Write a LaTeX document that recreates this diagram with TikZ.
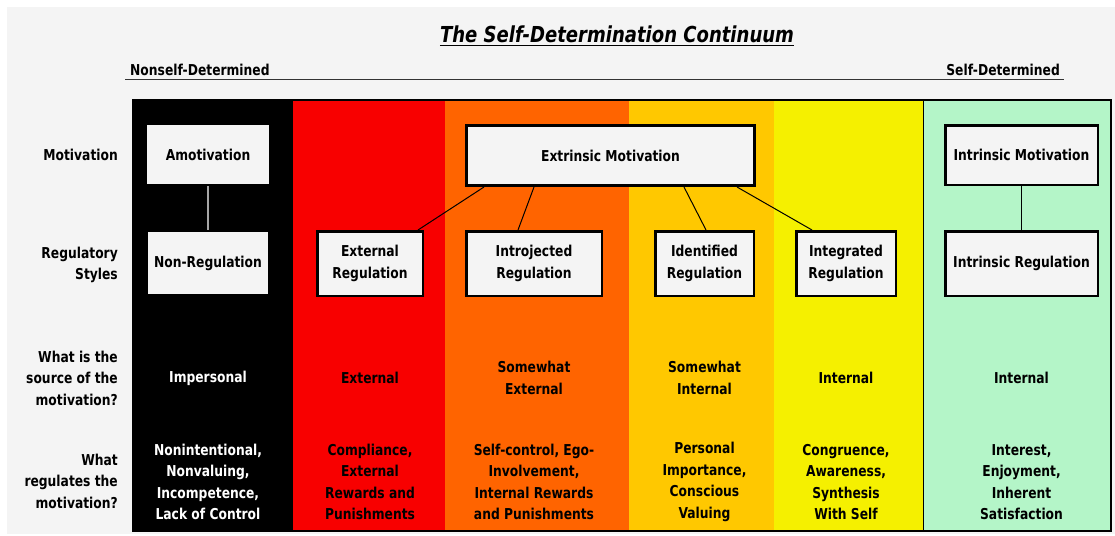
\documentclass[tikz,border=0pt]{standalone}
\usepackage{fontspec}
\setmainfont{DejaVu Sans}[FakeStretch=0.82]
\usetikzlibrary{positioning,calc}

\definecolor{pagegray}{HTML}{F4F4F4}
\definecolor{colred}{HTML}{F80000}
\definecolor{colorange}{HTML}{FF6400}
\definecolor{colgold}{HTML}{FFC800}
\definecolor{colyellow}{HTML}{F5F000}
\definecolor{colgreen}{HTML}{B4F5C8}

\begin{document}
\begin{tikzpicture}[
    x=1pt, y=-1pt,
    box/.style={draw, line width=2.5pt, fill=pagegray, align=center, inner sep=1pt, minimum height=64.5pt},
    lbl/.style={anchor=east, align=right, inner sep=0pt},
    cell/.style={align=center, inner sep=0pt},
    font=\fontsize{15}{21.5}\selectfont\bfseries
]
\useasboundingbox (0,0) rectangle (1115,535);

% Background and colour bands
\fill[pagegray] (7,7) rectangle (1115,534);
\fill[black]      (133,100) rectangle (293,531);
\fill[colred]     (293,100) rectangle (445,531);
\fill[colorange]  (445,100) rectangle (629,531);
\fill[colgold]    (629,100) rectangle (774,531);
\fill[colyellow]  (774,100) rectangle (923,531);
\fill[colgreen]   (923,100) rectangle (1111,531);
\draw[line width=1pt] (923,100) -- (923,531);
\draw[line width=2pt] (133,100) rectangle (1111,531);

% Heading
\node[font=\fontsize{22}{26}\selectfont\bfseries\itshape, inner sep=0pt, anchor=base] (title) at (617,43) {The Self-Determination Continuum};
\draw[line width=1.3pt] ([yshift=-2.7pt]title.base west) -- ([yshift=-2.7pt]title.base east);
\node[inner sep=0pt, anchor=base west] (nonself) at (130,75) {Nonself-Determined};
\node[inner sep=0pt, anchor=base east] (self) at (1060,75) {Self-Determined};
\coordinate (ruleL) at (125,79.5);
\coordinate (ruleR) at (1064,79.5);
\draw[line width=1.3pt, black!80] (ruleL) -- (ruleR);

% Row labels
\node[lbl] (lmot) at (118,155) {Motivation};
\node[lbl] (lreg) at (118,265) {Regulatory\\Styles};
\node[lbl] (lsrc) at (118,378) {What is the\\source of the\\motivation?};
\node[lbl] (lwhat) at (118,481) {What\\regulates the\\motivation?};

% Boxes
\node[box, minimum width=124pt, minimum height=61pt] (amot) at (208,154.5) {Amotivation};
\node[box, minimum width=122pt] (nonreg) at (208,263) {Non-Regulation};
\node[box, line width=3pt, minimum width=288pt, minimum height=60pt] (extrinsic) at (610.5,155.5) {Extrinsic Motivation};
\node[box, minimum width=105.5pt] (extreg) at (370,263.5) {External\\Regulation};
\node[box, minimum width=135.5pt] (introreg) at (534,263.5) {Introjected\\Regulation};
\node[box, minimum width=98.5pt] (identreg) at (704.5,263.5) {Identified\\Regulation};
\node[box, minimum width=99.5pt] (integreg) at (846,263.5) {Integrated\\Regulation};
\node[box, minimum width=152.5pt, minimum height=59.5pt] (intrmot) at (1021.5,155) {Intrinsic Motivation};
\node[box, minimum width=152.5pt] (intrreg) at (1021.5,263.5) {Intrinsic Regulation};

% Links between motivation and regulation
\draw[gray!70, line width=1.2pt] (amot.south) -- (nonreg.north);
\draw[line width=1pt] ([xshift=19pt]extrinsic.south west) -- ([xshift=-6pt]extreg.north east);
\draw[line width=1pt] ([xshift=69pt]extrinsic.south west) -- ([xshift=-16pt]introreg.north);
\draw[line width=1pt] ([xshift=-72pt]extrinsic.south east) -- ([xshift=1.5pt]identreg.north);
\draw[line width=1pt] ([xshift=-19pt]extrinsic.south east) -- ([xshift=17pt]integreg.north west);
\draw[line width=1pt] (intrmot.south) -- (intrreg.north);

% Source of the motivation
\node[cell, text=white] (srcA) at (208,378) {Impersonal};
\node[cell] (srcB) at (370,378) {External};
\node[cell] (srcC) at (534,378) {Somewhat\\External};
\node[cell] (srcD) at (704.5,378) {Somewhat\\Internal};
\node[cell] (srcE) at (846,378) {Internal};
\node[cell] (srcF) at (1021.5,378) {Internal};

% What regulates it
\node[cell, text=white] (regA) at (208,482) {Nonintentional,\\Nonvaluing,\\Incompetence,\\Lack of Control};
\node[cell] (regB) at (370,482) {Compliance,\\External\\Rewards and\\Punishments};
\node[cell] (regC) at (534,482) {Self-control, Ego-\\Involvement,\\Internal Rewards\\and Punishments};
\node[cell] (regD) at (704.5,482) {Personal\\Importance,\\Conscious\\Valuing};
\node[cell] (regE) at (846,482) {Congruence,\\Awareness,\\Synthesis\\With Self};
\node[cell] (regF) at (1021.5,482) {Interest,\\Enjoyment,\\Inherent\\Satisfaction};

\end{tikzpicture}
\end{document}
